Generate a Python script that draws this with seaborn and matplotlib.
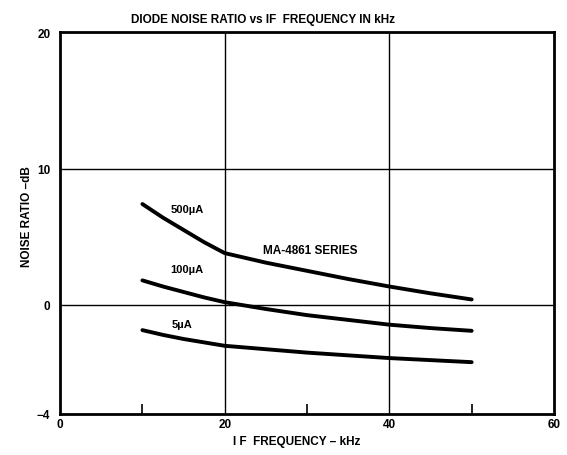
import numpy as np
import pandas as pd
import seaborn as sns
import matplotlib.pyplot as plt

# IF frequency (kHz) sample points
freq = [10, 12.5, 15, 17.5, 20, 25, 30, 35, 40, 45, 50]

# noise ratio (dB) per bias current
nr_500 = [7.4, 6.4, 5.5, 4.6, 3.8, 3.1, 2.5, 1.9, 1.35, 0.85, 0.4]
nr_100 = [1.8, 1.35, 0.95, 0.55, 0.2, -0.3, -0.75, -1.1, -1.45, -1.7, -1.9]
nr_5 = [-1.85, -2.2, -2.5, -2.75, -3.0, -3.25, -3.5, -3.7, -3.9, -4.05, -4.2]

currents = ['500µA', '100µA', '5µA']
x_ticks = [0, 20, 40, 60]
y_ticks = [-8, 0, 10, 20]
y_tick_labels = ['\u22124', '0', '10', '20']


def main():
    sns.set_theme(style="white")
    plt.rcParams['font.family'] = ['Liberation Sans', 'DejaVu Sans']
    plt.rcParams['text.color'] = 'black'
    plt.rcParams['axes.labelcolor'] = 'black'
    plt.rcParams['xtick.color'] = 'black'
    plt.rcParams['ytick.color'] = 'black'

    df = pd.DataFrame({
        'freq': freq * 3,
        'nr': nr_500 + nr_100 + nr_5,
        'current': [currents[0]] * len(freq) + [currents[1]] * len(freq) + [currents[2]] * len(freq),
    })

    fig = plt.figure(figsize=(5.67, 4.56), dpi=100)
    ax = fig.add_axes([0.106, 0.09, 0.871, 0.837])

    # grid lines first so curves sit on top
    for gx in [20, 40]:
        ax.axvline(gx, color='black', lw=1.0, zorder=1)
    for gy in [0, 10]:
        ax.axhline(gy, color='black', lw=1.0, zorder=1)

    sns.lineplot(data=df, x='freq', y='nr', hue='current',
                 palette=['black', 'black', 'black'], linewidth=2.8,
                 legend=False, ax=ax, zorder=3)

    ax.set_xlim(0, 60)
    ax.set_ylim(-8, 20)
    ax.set_xticks(x_ticks)
    ax.set_xticklabels([str(t) for t in x_ticks], fontsize=8.5, fontweight='bold')
    ax.set_yticks(y_ticks)
    ax.set_yticklabels(y_tick_labels, fontsize=8.5, fontweight='bold')
    ax.set_xticks([10, 30, 50], minor=True)
    ax.tick_params(axis='x', which='minor', direction='in', length=7, width=1.2,
                   bottom=True, color='black')
    ax.tick_params(axis='x', which='major', length=0, pad=3)
    ax.tick_params(axis='y', which='major', length=0, pad=7)

    for sp in ax.spines.values():
        sp.set_color('black')
        sp.set_linewidth(2)

    ax.set_xlabel('I F  FREQUENCY \u2013 kHz', fontsize=8.5, fontweight='bold', labelpad=4)
    ax.xaxis.set_label_coords(0.48, -0.055)
    ax.set_ylabel('NOISE RATIO \u2013dB', fontsize=8.5, fontweight='bold')
    ax.yaxis.set_label_coords(-0.055, 0.52)
    ax.text(0.41, 1.035, 'DIODE NOISE RATIO vs IF  FREQUENCY IN kHz', fontsize=8.5,
            fontweight='bold', ha='center', va='center', transform=ax.transAxes)

    ax.text(15.4, 7.0, '500µA', fontsize=8, fontweight='bold', ha='center', va='center')
    ax.text(30.4, 4.0, 'MA-4861 SERIES', fontsize=8.5, fontweight='bold', ha='center', va='center')
    ax.text(15.4, 2.6, '100µA', fontsize=8, fontweight='bold', ha='center', va='center')
    ax.text(14.8, -1.4, '5µA', fontsize=8, fontweight='bold', ha='center', va='center')

    fig.savefig('out.png', dpi=100)


if __name__ == '__main__':
    main()
